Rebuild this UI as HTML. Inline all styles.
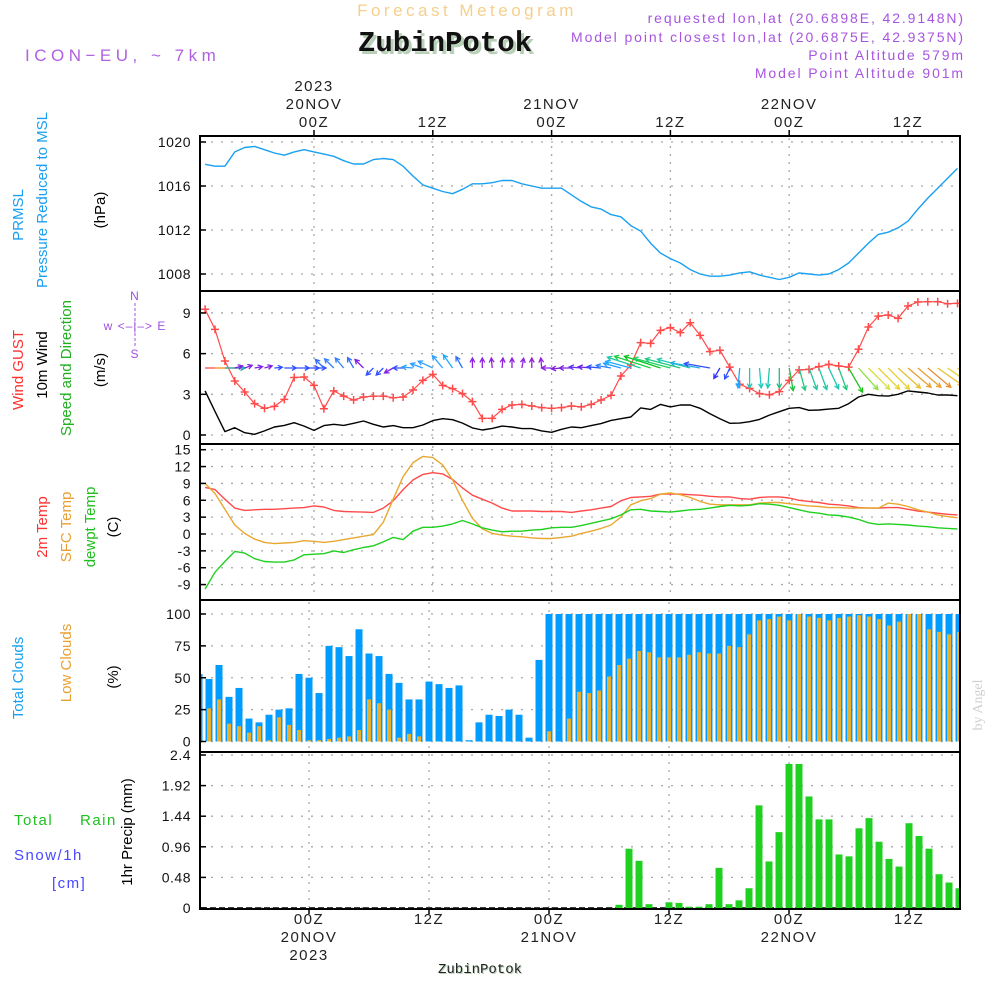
<!DOCTYPE html>
<html><head><meta charset="utf-8">
<style>
html,body{margin:0;padding:0;background:#fff;}
svg{display:block;font-family:"Liberation Sans",sans-serif;}
</style></head>
<body>
<svg id="chart" width="1000" height="1000" viewBox="0 0 1000 1000" xmlns="http://www.w3.org/2000/svg">
<defs><clipPath id="plotclip"><rect x="201" y="136" width="758" height="773"/></clipPath></defs>
<g id="texts">
<text x="467" y="16" text-anchor="middle" font-size="17" fill="#f5cf8c" letter-spacing="3.5">Forecast Meteogram</text>
<text x="965" y="23" text-anchor="end" font-size="14" fill="#a755e0" letter-spacing="1.9">requested lon,lat (20.6898E, 42.9148N)</text>
<text x="965" y="42" text-anchor="end" font-size="14" fill="#a755e0" letter-spacing="1.9">Model point closest lon,lat (20.6875E, 42.9375N)</text>
<text x="965" y="60" text-anchor="end" font-size="14" fill="#a755e0" letter-spacing="1.9">Point Altitude 579m</text>
<text x="965" y="78" text-anchor="end" font-size="14" fill="#a755e0" letter-spacing="1.9">Model Point Altitude 901m</text>
<text x="445" y="51" text-anchor="middle" font-size="29" font-weight="bold" font-family="Liberation Mono, monospace" fill="#111" style="text-shadow:3px 3px 0 #b8d0b8">ZubinPotok</text>
<text x="25" y="61" font-size="17" fill="#b060e0" letter-spacing="4.5">ICON−EU, ~ 7km</text>
<text x="480" y="973" text-anchor="middle" font-size="14" font-family="Liberation Mono, monospace" fill="#222" style="text-shadow:1px 1px 0 #b8d0b8">ZubinPotok</text>
<text transform="translate(982,705) rotate(-90)" text-anchor="middle" font-size="14" font-family="Liberation Serif, serif" fill="#d0d0d0">by Angel</text>
</g>
<g id="ylabels" font-size="15"></g>
<g id="grid"></g>
<g id="marks" clip-path="url(#plotclip)"></g>
<g id="axes"></g>
</svg>
<script>
// ---- data (hours -11 .. 65 relative to 20NOV 00Z) ----
const hourStart = -11;
const pressure = [1017.97,1017.8,1017.8,1019.1,1019.5,1019.6,1019.3,1019.0,1018.8,1019.1,1019.3,1019.1,1018.9,1018.7,1018.3,1018.0,1018.0,1018.4,1018.5,1018.4,1017.8,1016.9,1016.1,1015.8,1015.5,1015.3,1015.7,1016.2,1016.2,1016.3,1016.5,1016.5,1016.2,1016.0,1015.8,1015.8,1015.8,1015.2,1014.6,1014.1,1013.9,1013.4,1013.2,1012.4,1011.9,1010.8,1009.9,1009.4,1009.0,1008.4,1008.0,1007.8,1007.8,1007.9,1008.1,1008.2,1007.9,1007.7,1007.5,1007.7,1008.1,1008.0,1007.9,1008.0,1008.4,1009.0,1009.9,1010.8,1011.6,1011.8,1012.2,1012.8,1013.9,1014.9,1015.8,1016.7,1017.6];
const gust = [9.27,7.79,5.46,3.98,3.17,2.31,1.97,2.11,2.63,4.24,4.28,3.66,1.94,3.25,2.87,2.58,2.80,2.87,2.87,2.75,2.80,3.32,4.03,4.47,3.66,3.42,3.05,2.46,1.23,1.23,1.89,2.21,2.26,2.14,2.02,1.97,2.02,2.14,2.07,2.26,2.58,2.93,4.35,5.16,6.81,6.76,7.72,7.92,7.55,8.28,7.35,6.15,6.25,5.01,3.74,3.44,3.05,2.97,3.20,4.03,4.80,4.84,5.04,5.21,5.09,5.01,6.32,7.96,8.77,8.85,8.60,9.51,9.81,9.83,9.83,9.68,9.71];
const wind10 = [3.25,1.74,0.25,0.54,0.17,0.05,0.30,0.59,0.71,0.91,0.66,0.34,0.69,0.79,0.71,0.86,1.03,0.79,0.59,0.69,0.54,0.54,0.74,1.06,1.2,1.13,0.88,0.52,0.37,0.49,0.66,0.59,0.47,0.47,0.30,0.20,0.42,0.59,0.54,0.69,0.84,1.08,1.2,1.33,2.0,1.89,2.26,2.07,2.21,2.21,1.97,1.57,1.2,0.86,0.88,0.98,1.15,1.47,1.72,1.97,2.02,1.82,1.84,1.91,1.97,2.31,2.80,3.0,2.9,2.87,3.0,3.25,3.17,3.10,2.95,2.95,2.90];
const windDir = [270,270,270,255,250,260,255,265,270,270,270,270,135,135,140,150,135,45,45,60,90,95,110,115,140,145,150,180,180,175,185,180,190,180,175,90,85,90,95,95,95,100,105,105,108,108,108,105,105,105,100,100,30,25,5,0,355,5,0,350,345,340,340,335,340,330,318,315,315,315,312,310,310,310,305,305,305];
const arrowMag = [4,3,2,0.8,0.8,0.8,0.8,0.8,1.2,1.5,1.5,1.2,1.2,1.3,1.3,1.2,1.2,1.0,1.0,1.0,1.0,1.1,1.3,1.6,1.6,1.6,1.3,1.0,1.0,1.0,1.0,1.0,1.0,1.0,1.0,1.0,1.0,1.2,1.2,1.3,1.4,1.5,1.8,2.6,3.5,3.8,3.8,3.8,3.6,3.4,3.0,2.6,1.2,1.2,2.0,2.0,2.0,2.0,2.0,2.3,2.3,2.3,2.3,2.3,2.3,2.8,2.9,3.0,3.0,3.0,3.0,3.0,3.0,3.0,3.0,3.0,3.0];
const arrowColor = ['#ff4040','#e8b030','#20b0c0','#8020e0','#8020e0','#8020e0','#8020e0','#3050ff','#3050ff','#3050ff','#3050ff','#3050ff','#3070ff','#3080ff','#3080ff','#3070ff','#8020e0','#3050ff','#3050ff','#8020e0','#3050ff','#30a0ff','#30a0ff','#30a0ff','#30a0ff','#20a8ff','#3070ff','#9020e0','#9020e0','#9020e0','#9020e0','#9020e0','#9020e0','#9020e0','#9020e0','#9020e0','#8020e0','#8020e0','#6030ff','#7020e0','#3050ff','#3080ff','#20a0ff','#20a8ff','#20c8a0','#20d040','#10c020','#20d060','#20c880','#20c8b0','#20b0e0','#3050ff','#3030ff','#3050ff','#20a8ff','#20c8c0','#20c8c0','#20c8b0','#20c080','#20c040','#20c880','#20c8a0','#20c8a0','#20c8b0','#20c880','#20c020','#90e040','#d8e040','#e8d030','#e8d030','#e8c030','#e8a030','#e8a030','#e89030','#e8c030','#e8d030','#e8d030'];
const temp2m = [8.3,7.9,6.2,4.6,4.2,4.3,4.4,4.4,4.5,4.6,4.7,5.0,4.8,4.2,4.0,3.95,3.9,3.85,4.6,5.9,7.9,9.6,10.6,10.9,10.7,9.7,8.2,6.9,6.2,5.5,4.6,4.1,4.1,4.1,4.0,4.0,4.0,3.85,4.1,4.3,4.6,4.9,5.9,6.5,6.6,6.7,7.1,7.1,7.1,7.0,6.9,6.7,6.6,6.6,6.3,6.2,6.5,6.6,6.6,6.4,6.0,5.8,5.6,5.3,5.2,5.0,4.7,4.6,4.6,4.7,4.7,4.4,4.1,3.9,3.7,3.5,3.4];
const tempSfc = [9.0,7.2,4.4,1.6,0.1,-0.9,-1.5,-1.7,-1.6,-1.5,-1.2,-1.3,-1.5,-1.3,-1.0,-0.7,-0.4,-0.1,2.1,6.2,10.2,12.7,13.8,13.6,12.3,9.6,6.0,2.8,0.9,0.1,-0.2,-0.4,-0.5,-0.7,-0.8,-0.8,-0.6,-0.4,0.1,0.5,1.0,1.6,3.0,5.2,5.9,6.3,7.1,7.3,7.0,6.5,5.8,5.3,5.2,5.2,5.2,5.2,5.5,5.6,5.6,5.4,5.2,5.0,4.9,4.7,4.7,4.6,4.6,4.6,4.6,5.5,5.3,4.9,4.3,3.9,3.4,3.1,2.9];
const dewpt = [-9.8,-6.8,-4.9,-3.1,-3.4,-4.4,-4.9,-5.0,-5.0,-4.6,-3.7,-3.6,-3.5,-3.0,-3.3,-2.8,-2.4,-2.1,-1.4,-0.6,-1.0,0.5,1.2,1.2,1.4,1.8,2.4,1.8,1.1,0.7,0.4,0.5,0.5,0.7,0.8,1.1,1.2,1.2,1.5,1.9,2.3,2.7,3.4,4.3,4.4,4.1,4.0,3.9,4.1,4.3,4.4,4.6,4.9,5.1,5.0,5.1,5.4,5.3,5.1,4.7,4.3,3.9,3.7,3.4,3.3,3.0,2.6,2.0,1.7,1.8,1.7,1.6,1.4,1.3,1.1,1.0,0.9];
const totalClouds = [53,49,60,35,42,18,15,21,25,26,53,50,38,75,74,67,88,69,67,53,46,33,33,47,45,42,44,1,15,21,20,25,21,3,64,100,100,100,100,100,100,100,100,100,100,100,100,100,100,100,100,100,100,100,100,100,100,100,100,100,100,100,100,100,100,100,100,100,100,100,100,100,100,100,100,100,100];
const lowClouds = [7,26,33,14,12,7,12,1,19,13,9,1,1,2,3,4,9,33,30,25,3,6,4,0,0,0,0,0,0,0,0,0,0,0,0,8,0,18,39,38,40,51,60,65,71,70,66,66,66,68,70,69,69,75,74,84,95,96,98,95,100,98,97,95,97,98,99,98,96,91,94,100,100,88,86,84,86];
const precip = [0,0,0,0,0,0,0,0,0,0,0,0,0,0,0,0,0,0,0,0,0,0,0,0,0,0,0,0,0,0,0,0,0,0,0,0,0,0,0,0,0,0,0.05,0.93,0.74,0.06,0,0.09,0.08,0.02,0.02,0.06,0.63,0.06,0.12,0.31,1.61,0.73,1.19,2.26,2.26,1.75,1.39,1.39,0.84,0.81,1.25,1.41,1.04,0.77,0.65,1.33,1.13,0.93,0.53,0.40,0.31];
const pTicks = [1020,1016,1012,1008];
const wTicks = [9,6,3,0];
const tTicks = [15,12,9,6,3,0,-3,-6,-9];
const cTicks = [100,75,50,25,0];
const rTicks = [2.4,1.92,1.44,0.96,0.48,0];
const rTickLabels = ['2.4','1.92','1.44','0.96','0.48','0'];
const gridHours = [0,12,24,36,48];
const topLabels = [[0,['2023','20NOV','00Z']],[12,['12Z']],[24,['21NOV','00Z']],[36,['12Z']],[48,['22NOV','00Z']],[60,['12Z']]];

// ---- scales ----
const xT = h => 314 + 9.9*h;
const xB = h => 309 + 10*h;
const yP = v => 142 + (1020 - v)*11;
const yW = v => 435 - v*13.56;
const yT = v => 534 - v*5.62;
const yC = v => 741.5 - v*1.275;
const yR = v => 908 - v*63.75;
const panels = [[136,291,'pressure'],[291,444,'wind'],[444,600,'temp'],[600,752,'clouds'],[752,909,'precip']];

const NS='http://www.w3.org/2000/svg';
function mk(tag, parent, attrs){const e=document.createElementNS(NS,tag);for(const k in attrs)e.setAttribute(k,attrs[k]);parent.appendChild(e);return e;}
const grid=document.getElementById('grid'), marks=document.getElementById('marks'), axes=document.getElementById('axes'), ylab=document.getElementById('ylabels');

function hgrid(ticks, ys, labels){
  ticks.forEach((t,i)=>{
    const y=ys(t);
    const l=mk('line',grid,{x1:201,x2:959,y1:y,y2:y,stroke:'#a8a8a8','stroke-width':1.3,'stroke-dasharray':'2,8'});
    
    
    const tk=mk('line',axes,{x1:200,x2:206,y1:y,y2:y,stroke:'#000','stroke-width':1.5});
    
    
    const tx=mk('text',axes,{x:191,y:y+5,'text-anchor':'end','font-size':14,fill:'#111','letter-spacing':0.5});
    tx.textContent = labels ? labels[i] : String(t);
    
    
  });
}
hgrid(pTicks,yP); hgrid(wTicks,yW); hgrid(tTicks,yT); hgrid(cTicks,yC); hgrid(rTicks,yR,rTickLabels);

panels.forEach((p,pi)=>{
  const xs = pi<3 ? xT : xB;
  gridHours.forEach(h=>{
    const l=mk('line',grid,{x1:xs(h),x2:xs(h),y1:p[0]+2,y2:p[1]-2,stroke:'#a8a8a8','stroke-width':1.3,'stroke-dasharray':'2,6'});
    
    
  });
});

panels.forEach(p=>{
  const r=mk('rect',axes,{x:200,y:p[0],width:760,height:p[1]-p[0],fill:'none',stroke:'#000','stroke-width':2});
  
  
});
[0,12,24,36,48,60].forEach(h=>{
  const t=mk('line',axes,{x1:xT(h),x2:xT(h),y1:130,y2:136,stroke:'#000','stroke-width':1.5});
  
  
  const b=mk('line',axes,{x1:xB(h),x2:xB(h),y1:909,y2:914,stroke:'#000','stroke-width':1.5});
  
  
});
topLabels.forEach(([h,lines])=>{
  lines.forEach((s,i)=>{
    const y = 127 - (lines.length-1-i)*18;
    const t=mk('text',axes,{x:xT(h),y:y,'text-anchor':'middle','font-size':15,fill:'#222','letter-spacing':1.5});
    t.textContent=s;
    
    
  });
  const bl = lines.slice().reverse();
  bl.forEach((s,i)=>{
    const t=mk('text',axes,{x:xB(h),y:924+i*18,'text-anchor':'middle','font-size':15,fill:'#222','letter-spacing':1.5});
    t.textContent=s;
    
    
  });
});

function line(vals, xs, ys, color, name, w){
  const d=vals.map((v,i)=>(i?'L':'M')+xs(hourStart+i).toFixed(1)+','+ys(v).toFixed(1)).join('');
  const p=mk('path',marks,{d:d,fill:'none',stroke:color,'stroke-width':w||1.4,'stroke-linejoin':'round'});
  
  
  return p;
}
line(pressure,xT,yP,'#1aa0f0','pressure-line');
line(wind10,xT,yW,'#000','wind-speed-line');
line(gust,xT,yW,'#ff4a4a','gust-line',1.2);
gust.forEach((v,i)=>{
  const x=xT(hourStart+i), y=yW(v);
  const m=mk('path',marks,{d:`M${x-4},${y}H${x+4}M${x},${y-4}V${y+4}`,stroke:'#ff4a4a','stroke-width':1.5});
  
  
});
windDir.forEach((d,i)=>{
  const x0=xT(hourStart+i), y0=368;
  const a=(d+180)*Math.PI/180;
  const L=arrowMag[i]*10;
  const x1=x0+Math.sin(a)*L, y1=y0-Math.cos(a)*L;
  const ang=Math.atan2(y1-y0,x1-x0);
  const hl=5;
  const hx1=x1-hl*Math.cos(ang-0.5), hy1=y1-hl*Math.sin(ang-0.5);
  const hx2=x1-hl*Math.cos(ang+0.5), hy2=y1-hl*Math.sin(ang+0.5);
  const p=mk('path',marks,{d:`M${x0.toFixed(1)},${y0}L${x1.toFixed(1)},${y1.toFixed(1)}M${hx1.toFixed(1)},${hy1.toFixed(1)}L${x1.toFixed(1)},${y1.toFixed(1)}L${hx2.toFixed(1)},${hy2.toFixed(1)}`,fill:'none',stroke:arrowColor[i],'stroke-width':1.3});
  
  
});
line(temp2m,xT,yT,'#ff4a4a','temp-2m-line');
line(tempSfc,xT,yT,'#e8a830','temp-sfc-line');
line(dewpt,xT,yT,'#20d020','dewpoint-line');
totalClouds.forEach((v,i)=>{
  const x=xB(hourStart+i);
  const r=mk('rect',marks,{x:x-3.5,y:yC(v),width:7,height:yC(0)-yC(v),fill:'#009cff'});
  
  
});
lowClouds.forEach((v,i)=>{
  if(v<=0) return;
  const x=xB(hourStart+i);
  const r=mk('rect',marks,{x:x-2,y:yC(v),width:4,height:yC(0)-yC(v),fill:'#e8b030'});
  
  
});
const zl=mk('line',marks,{x1:201,x2:959,y1:yR(0),y2:yR(0),stroke:'#000','stroke-width':1.5,'stroke-dasharray':'6,3'});


precip.forEach((v,i)=>{
  if(v<=0) return;
  const x=xB(hourStart+i);
  const r=mk('rect',marks,{x:x-3.5,y:yR(v),width:7,height:yR(0)-yR(v),fill:'#20d020'});
  
  
});

function vlabel(x,y,text,color,name){
  const t=mk('text',ylab,{transform:`translate(${x},${y}) rotate(-90)`,'text-anchor':'middle','font-size':15,fill:color});
  t.textContent=text;
  
  
}
vlabel(23,215,'PRMSL','#1aa0f0','pressure-title-short');
vlabel(47,200,'Pressure Reduced to MSL','#1aa0f0','pressure-title');
vlabel(105,210,'(hPa)','#000','pressure-unit');
vlabel(23,370,'Wind GUST','#ff3030','gust-title');
vlabel(47,365,'10m Wind','#000','wind-title');
vlabel(71,368,'Speed and Direction','#20b020','wind-dir-title');
vlabel(105,370,'(m/s)','#000','wind-unit');
vlabel(47,527,'2m Temp','#ff3030','temp-2m-title');
vlabel(71,527,'SFC Temp','#e8a030','temp-sfc-title');
vlabel(95,527,'dewpt Temp','#20c020','dewpt-title');
vlabel(118,527,'(C)','#000','temp-unit');
vlabel(23,678,'Total Clouds','#1aa0f0','total-clouds-title');
vlabel(71,663,'Low Clouds','#e8a030','low-clouds-title');
vlabel(118,677,'(%)','#000','clouds-unit');
vlabel(132,832,'1hr Precip (mm)','#000','precip-unit-title');
[['Total',14,825,'#20c020','rain-title-total'],['Rain',80,825,'#20c020','rain-title'],['Snow/1h',14,860,'#4848ff','snow-title'],['[cm]',52,888,'#4848ff','snow-unit']].forEach(a=>{
  const t=mk('text',ylab,{x:a[1],y:a[2],'font-size':15,fill:a[3],'letter-spacing':1.5});
  t.textContent=a[0];
  
  
});
[['N',135,300],['w <–|–> E',135,330],['S',135,358]].forEach(a=>{
  const t=mk('text',ylab,{x:a[1],y:a[2],'text-anchor':'middle','font-size':12,fill:'#a050e0','letter-spacing':1});
  t.textContent=a[0];
  
  
});
const cl=mk('line',ylab,{x1:135,x2:135,y1:303,y2:347,stroke:'#a050e0','stroke-width':1,'stroke-dasharray':'3,2'});


</script>
</body></html>
